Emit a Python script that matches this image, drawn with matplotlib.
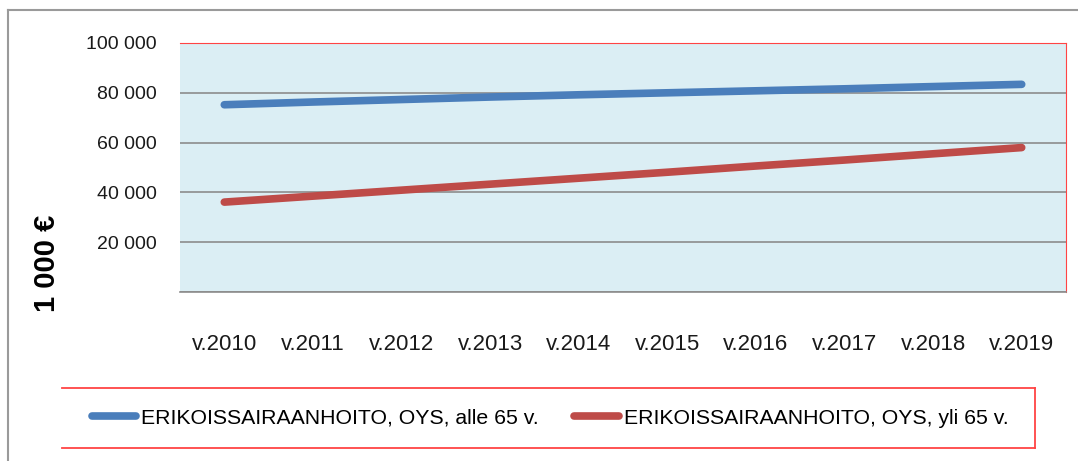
import numpy as np
import matplotlib
matplotlib.use("Agg")
import matplotlib.pyplot as plt
from matplotlib.lines import Line2D

# data (1 000 €)
years = ["v.2010", "v.2011", "v.2012", "v.2013", "v.2014",
         "v.2015", "v.2016", "v.2017", "v.2018", "v.2019"]
alle65 = [75200, 76300, 77300, 78300, 79200, 80000, 80800, 81600, 82500, 83400]
yli65 = [36100, 38500, 40900, 43300, 45700, 48100, 50600, 53000, 55500, 58000]
yticks = [0, 20000, 40000, 60000, 80000, 100000]
ytick_labels = ["", "20 000", "40 000", "60 000", "80 000", "100 000"]
labels = ["ERIKOISSAIRAANHOITO, OYS, alle 65 v.",
          "ERIKOISSAIRAANHOITO, OYS, yli 65 v."]

plt.rcParams['font.family'] = ['Liberation Sans', 'DejaVu Sans']

W, H = 1078, 461
fig = plt.figure(figsize=(W / 100, H / 100), dpi=100)
ax = fig.add_axes([180 / W, 1 - 292 / H, (1066 - 180) / W, (292 - 43) / H])
ax.set_facecolor("#DBEEF4")

x = np.arange(len(years))
ax.plot(x, alle65, color="#4A7EBB", lw=5.5, solid_capstyle="round", label=labels[0])
ax.plot(x, yli65, color="#BE4B48", lw=5.5, solid_capstyle="round", label=labels[1])

ax.set_xlim(-0.5, len(years) - 0.5)
ax.set_ylim(0, 100000)
ax.set_yticks(yticks)
ax.set_yticklabels(ytick_labels)
ax.set_xticks(x)
ax.set_xticklabels(years)
ax.tick_params(axis="both", length=0, colors="#1a1a1a")
ax.tick_params(axis="y", pad=16.5, labelsize=14)
ax.tick_params(axis="x", pad=30, labelsize=16)
ax.grid(axis="y", color="#8C8C8C", lw=1.2)
ax.set_axisbelow(True)

ax.spines["left"].set_visible(False)
ax.spines["bottom"].set_color("#8C8C8C")
ax.spines["bottom"].set_linewidth(1.2)
ax.spines["top"].set_color("#FF4444")
ax.spines["right"].set_color("#FF4444")

fig.text(47 / W, 1 - 263 / H, "1 000 €", rotation=90, ha="center", va="center",
         fontsize=21, fontweight="bold")

# outer gray frame (left and top only visible)
fig.add_artist(Line2D([8 / W, 8 / W], [0, 1 - 10 / H], color="#9A9A9A", lw=1.5,
                      transform=fig.transFigure))
fig.add_artist(Line2D([8 / W, 1], [1 - 10 / H, 1 - 10 / H], color="#9A9A9A", lw=1.5,
                      transform=fig.transFigure))

# legend box lines
lx0, lx1 = 62 / W, 1035 / W
ly0, ly1 = 1 - 448 / H, 1 - 388 / H
for xs, ys in [([lx0, lx1], [ly1, ly1]), ([lx0, lx1], [ly0, ly0]), ([lx1, lx1], [ly0, ly1])]:
    fig.add_artist(Line2D(xs, ys, color="#FF4444", lw=1.3, transform=fig.transFigure))

fig.legend(loc="center", bbox_to_anchor=(550 / W, 1 - 418 / H),
           ncol=2, frameon=False, fontsize=15.3, handlelength=2.1, handletextpad=0.24,
           columnspacing=1.65)

fig.savefig("out.png", dpi=100)
